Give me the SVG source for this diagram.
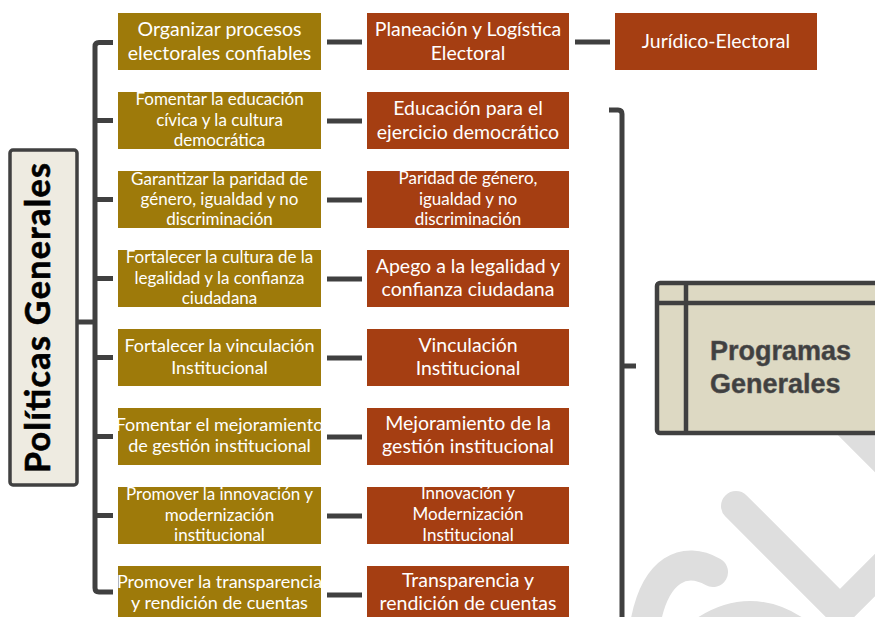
<svg xmlns="http://www.w3.org/2000/svg" width="875" height="617" viewBox="0 0 875 617">
<style>
.ol{fill:#9E7A0A}
.rd{fill:#A53E12}
.t{font-family:Lato,"Open Sans",sans-serif;fill:#ffffff;text-anchor:middle}
.s{font-size:17px}
.m{font-size:18px}
.l{font-size:19.5px}
.wm{fill:none;stroke:#dedede;stroke-width:30;stroke-linecap:round;stroke-linejoin:miter}
.cn{fill:none;stroke:#404040;stroke-width:5}
</style>
<rect width="875" height="617" fill="#ffffff"/>
<g id="watermark">
<path class="wm" d="M780 356 L940 516" stroke-width="50"/>
<path class="wm" d="M736 506 L840 610 L900 550"/>
<path class="wm" d="M713 572 C685 556 655 568 645 625" stroke-width="28"/>
<path class="wm" d="M690 642 Q750 590 810 642" stroke-width="28"/>
</g>
<g id="connectors">
<path class="cn" d="M113 42.5 H99 Q95 42.5 95 46.5 V588 Q95 592 99 592 H113"/>
<path class="cn" d="M95 120.5 H113 M95 199.5 H113 M95 278.5 H113 M95 357.5 H113 M95 436.5 H113 M95 515.5 H113"/>
<path class="cn" d="M77 322 H95"/>
<path class="cn" d="M327 42 H362 M327 121 H362 M327 200 H362 M327 279 H362 M327 358 H362 M327 437 H362 M327 516 H362 M327 595 H362"/>
<path class="cn" d="M575 42 H610"/>
<path class="cn" stroke-width="4.5" d="M609 110 H618 Q622 110 622 114 V620 M622 366 H636"/>
</g>
<g id="politicas">
<rect x="10" y="150" width="67" height="335" rx="3" fill="#EEEBE1" stroke="#404040" stroke-width="3.5"/>
<text transform="translate(50,318) rotate(-90)" text-anchor="middle" font-family="Lato,'Open Sans',sans-serif" font-weight="700" font-size="34" fill="#000000" stroke="#000000" stroke-width="0.6" textLength="310">Políticas Generales</text>
</g>
<g id="p1">
<rect class="ol" x="118" y="13" width="203" height="57"/>
<text class="t l" x="219.5" y="36">Organizar procesos</text>
<text class="t l" x="219.5" y="60">electorales confiables</text>
</g>
<g id="p2">
<rect class="ol" x="118" y="92" width="203" height="57"/>
<text class="t s" x="219.5" y="105">Fomentar la educación</text>
<text class="t s" x="219.5" y="125.5">cívica y la cultura</text>
<text class="t s" x="219.5" y="146">democrática</text>
</g>
<g id="p3">
<rect class="ol" x="118" y="171" width="203" height="57"/>
<text class="t s" x="219.5" y="185">Garantizar la paridad de</text>
<text class="t s" x="219.5" y="204.5">género, igualdad y no</text>
<text class="t s" x="219.5" y="225">discriminación</text>
</g>
<g id="p4">
<rect class="ol" x="118" y="250" width="203" height="57"/>
<text class="t s" x="219.5" y="263">Fortalecer la cultura de la</text>
<text class="t s" x="219.5" y="283.5">legalidad y la confianza</text>
<text class="t s" x="219.5" y="303.5">ciudadana</text>
</g>
<g id="p5">
<rect class="ol" x="118" y="329" width="203" height="57"/>
<text class="t m" x="219.5" y="352">Fortalecer la vinculación</text>
<text class="t m" x="219.5" y="374">Institucional</text>
</g>
<g id="p6">
<rect class="ol" x="118" y="408" width="203" height="57"/>
<text class="t m" x="219.5" y="431">Fomentar el mejoramiento</text>
<text class="t m" x="219.5" y="452">de gestión institucional</text>
</g>
<g id="p7">
<rect class="ol" x="118" y="487" width="203" height="57"/>
<text class="t s" x="219.5" y="500">Promover la innovación y</text>
<text class="t s" x="219.5" y="520.5">modernización</text>
<text class="t s" x="219.5" y="541">institucional</text>
</g>
<g id="p8">
<rect class="ol" x="118" y="566" width="203" height="57"/>
<text class="t m" x="219.5" y="588">Promover la transparencia</text>
<text class="t m" x="219.5" y="609">y rendición de cuentas</text>
</g>
<g id="g1">
<rect class="rd" x="367" y="13" width="202" height="57"/>
<text class="t l" x="468" y="36">Planeación y Logística</text>
<text class="t l" x="468" y="60">Electoral</text>
</g>
<g id="g1b">
<rect class="rd" x="615" y="13" width="202" height="57"/>
<text class="t l" x="716" y="48">Jurídico-Electoral</text>
</g>
<g id="g2">
<rect class="rd" x="367" y="92" width="202" height="57"/>
<text class="t l" x="468" y="115">Educación para el</text>
<text class="t l" x="468" y="139">ejercicio democrático</text>
</g>
<g id="g3">
<rect class="rd" x="367" y="171" width="202" height="57"/>
<text class="t s" x="468" y="184">Paridad de género,</text>
<text class="t s" x="468" y="204.5">igualdad y no</text>
<text class="t s" x="468" y="225">discriminación</text>
</g>
<g id="g4">
<rect class="rd" x="367" y="250" width="202" height="57"/>
<text class="t l" x="468" y="273">Apego a la legalidad y</text>
<text class="t l" x="468" y="296">confianza ciudadana</text>
</g>
<g id="g5">
<rect class="rd" x="367" y="329" width="202" height="57"/>
<text class="t l" x="468" y="352">Vinculación</text>
<text class="t l" x="468" y="375">Institucional</text>
</g>
<g id="g6">
<rect class="rd" x="367" y="408" width="202" height="57"/>
<text class="t l" x="468" y="430">Mejoramiento de la</text>
<text class="t l" x="468" y="453">gestión institucional</text>
</g>
<g id="g7">
<rect class="rd" x="367" y="487" width="202" height="57"/>
<text class="t s" x="468" y="499">Innovación y</text>
<text class="t s" x="468" y="520">Modernización</text>
<text class="t s" x="468" y="541">Institucional</text>
</g>
<g id="g8">
<rect class="rd" x="367" y="566" width="202" height="57"/>
<text class="t l" x="468" y="587">Transparencia y</text>
<text class="t l" x="468" y="610">rendición de cuentas</text>
</g>
<g id="programas">
<rect x="657" y="283" width="240" height="150" rx="3" fill="#DDD9C3" stroke="#404040" stroke-width="4.5"/>
<path d="M686 283 V433 M657 303 H880" fill="none" stroke="#404040" stroke-width="4.5"/>
<text x="710" y="360" font-family="'Liberation Sans',Arial,sans-serif" font-weight="700" font-size="27" fill="#404040" stroke="#555555" stroke-width="0.5">Programas</text>
<text x="710" y="393" font-family="'Liberation Sans',Arial,sans-serif" font-weight="700" font-size="27" fill="#404040" stroke="#555555" stroke-width="0.5">Generales</text>
</g>
</svg>
